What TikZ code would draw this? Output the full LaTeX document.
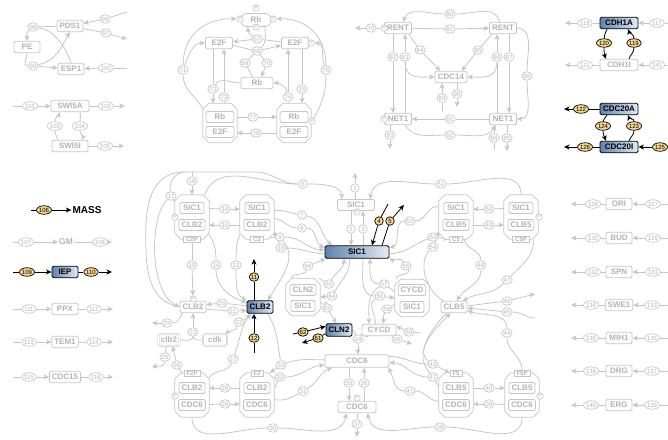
\documentclass[tikz,border=0pt]{standalone}
\usepackage{fontspec}
\setmainfont{Liberation Sans}
\usepackage{tikz}
\usetikzlibrary{arrows.meta,shapes.geometric,shapes.misc}
\definecolor{ash}{HTML}{C6C6C6}
\definecolor{ashtext}{HTML}{B4B4B4}
\definecolor{steel}{HTML}{5E82AD}
\definecolor{frost}{HTML}{E4ECF4}
\definecolor{honey}{HTML}{F6D58E}
\pgfdeclarelayer{back}
\pgfdeclarelayer{mid}
\pgfsetlayers{back,mid,main}

\begin{document}
\begin{tikzpicture}[x=1pt,y=-1pt,
  ln/.style={draw=ash,line width=0.8pt},
  ar/.style={ln,-{Stealth[length=5.5pt,width=5pt,inset=1.5pt]}},
  bln/.style={draw=black,line width=0.8pt},
  bar/.style={bln,-{Stealth[length=5.5pt,width=5pt,inset=1.5pt]}},
  sp/.style={draw=ash,line width=0.8pt,fill=white,text=ashtext,rounded corners=1.5pt,
    font=\fontsize{8}{8}\selectfont\bfseries,inner xsep=2.5pt,inner ysep=0pt,
    minimum width=26pt,minimum height=11.5pt},
  cs/.style={sp,minimum width=24pt,minimum height=11pt},
  hl/.style={sp,draw=black,text=black,left color=steel,right color=frost},
  rx/.style={ellipse,draw=ash,line width=0.7pt,fill=white,text=ashtext,
    font=\fontsize{6}{6}\selectfont,inner xsep=0.3pt,inner ysep=0pt,minimum size=8.5pt},
  rh/.style={rx,draw=black,fill=honey,text=black},
  ph/.style={circle,draw=ash,line width=0.6pt,fill=white,text=ashtext,
    font=\fontsize{5}{5}\selectfont,inner sep=0pt,minimum size=6.5pt},
  cx/.style={rectangle,inner sep=0pt,minimum width=34pt,minimum height=44pt},
  oct/.style={draw=ash,line width=0.8pt,fill=white,rounded corners=0.8pt},
  tab/.style={draw=ash,line width=0.6pt,fill=white,text=ashtext,
    font=\fontsize{6}{6}\selectfont\bfseries,inner xsep=2.5pt,inner ysep=0.8pt}]
\useasboundingbox (0,0) rectangle (668,439);

% PDS1 / ESP1
\node[sp] (pds1) at (70,26) {PDS1};
\node[sp] (pe) at (27,47) {PE};
\node[sp] (esp1) at (71,69) {ESP1};
\node[rx] (r96) at (105,19) {96};
\node[rx] (r97) at (106,33) {97};
\node[rx] (r98) at (33,27) {98};
\node[rx] (r99) at (33,66) {99};
\node[rx] (r100) at (106,68) {100};
\coordinate (i96) at (127,12); \coordinate (o97) at (127,39); \coordinate (i100) at (127,68);
\begin{pgfonlayer}{back}
\draw[ln] (i96) -- (r96); \draw[ar] (r96) -- (pds1);
\draw[ln] (pds1) -- (r97); \draw[ar] (r97) -- (o97);
\draw[ln] (pds1) -- (r98); \draw[ar] (r98) to[out=-140,in=90] (pe);
\draw[ln] (pe) to[out=-90,in=180] (r99); \draw[ar] (r99) -- (esp1);
\draw[ar] (r99) .. controls (58,60) and (62,45) .. (pds1.-90);
\draw[ln] (r98) .. controls (55,30) and (66,48) .. (esp1.90);
\draw[ln] (i100) -- (r100); \draw[ar] (r100) -- (esp1);
\end{pgfonlayer}

% SWI5
\node[sp,minimum width=38pt] (swi5a) at (70,106) {SWI5A};
\node[sp,minimum width=36pt] (swi5i) at (70,146) {SWI5I};
\node[rx] (r101) at (30,106) {101};
\node[rx] (r102) at (106,106) {102};
\node[rx] (r103) at (55,126) {103};
\node[rx] (r104) at (80,126) {104};
\node[rx] (r105) at (105,146) {105};
\coordinate (i101) at (13,106); \coordinate (o102) at (125,106); \coordinate (o105) at (124,146);
\begin{pgfonlayer}{back}
\draw[ln] (i101) -- (r101); \draw[ar] (r101) -- (swi5a);
\draw[ln] (swi5a) -- (r102); \draw[ar] (r102) -- (o102);
\draw[ln] ([xshift=-12pt]swi5i.north) to[out=110,in=-90] (r103); \draw[ar] (r103) to[out=90,in=-110] ([xshift=-10pt]swi5a.south);
\draw[ln] ([xshift=10pt]swi5a.south) to[out=-70,in=90] (r104); \draw[ar] (r104) to[out=-90,in=70] ([xshift=12pt]swi5i.north);
\draw[ln] (swi5i) -- (r105); \draw[ar] (r105) -- (o105);
\end{pgfonlayer}

% left column
\node[rh] (r106) at (44,210) {106};
\node[font=\fontsize{10}{10}\selectfont\bfseries,inner sep=1pt] (mass) at (87,210) {MASS};
\node[rx] (r107) at (26,242) {107};
\node[text=ashtext,font=\fontsize{8.5}{8.5}\selectfont\bfseries,inner sep=1pt] (gm) at (66,242) {GM};
\node[rx] (r108) at (100,242) {108};
\node[rh] (r109) at (27,272) {109};
\node[hl] (iep) at (65,272) {IEP};
\node[rh] (r110) at (91,272) {110};
\node[rx] (r111) at (29,309) {111};
\node[sp] (ppx) at (65,309) {PPX};
\node[rx] (r112) at (94,309) {112};
\node[rx] (r113) at (29,342) {113};
\node[sp] (tem1) at (65,342) {TEM1};
\node[rx] (r114) at (94,342) {114};
\node[rx] (r115) at (29,377) {115};
\node[sp,minimum width=30pt] (cdc15) at (65,377) {CDC15};
\node[rx] (r116) at (96,377) {116};
\coordinate (i106) at (31,210); \coordinate (i107) at (13,242); \coordinate (o108) at (112,242);
\coordinate (i109) at (13,272); \coordinate (o110) at (112,272);
\coordinate (i111) at (13,309); \coordinate (o112) at (113,309);
\coordinate (i113) at (13,342); \coordinate (o114) at (113,342);
\coordinate (i115) at (13,377); \coordinate (o116) at (113,377);
\begin{pgfonlayer}{back}
\draw[bln] (i106) -- (r106); \draw[bar] (r106) -- (mass);
\draw[ln] (i107) -- (r107); \draw[ar] (r107) -- (gm); \draw[ln] (gm) -- (r108); \draw[ar] (r108) -- (o108);
\draw[bln] (i109) -- (r109); \draw[bar] (r109) -- (iep); \draw[bln] (iep) -- (r110); \draw[bar] (r110) -- (o110);
\draw[ln] (i111) -- (r111); \draw[ar] (r111) -- (ppx); \draw[ln] (ppx) -- (r112); \draw[ar] (r112) -- (o112);
\draw[ln] (i113) -- (r113); \draw[ar] (r113) -- (tem1); \draw[ln] (tem1) -- (r114); \draw[ar] (r114) -- (o114);
\draw[ln] (i115) -- (r115); \draw[ar] (r115) -- (cdc15); \draw[ln] (cdc15) -- (r116); \draw[ar] (r116) -- (o116);
\end{pgfonlayer}

% Rb / E2F
\node[sp,sharp corners,rounded rectangle,minimum width=36pt,minimum height=13pt] (rbp) at (256,20) {Rb};
\node[ph] (rbpl) at (240,19) {P};
\node[ph] (rbpr) at (273,19) {P};
\node[ph] (rbpt) at (256,8) {P};
\node[ph] (rbpb) at (256,27) {P};
\node[sp,minimum width=27pt] (e2fl) at (219,43) {E2F};
\node[sp,minimum width=27pt] (e2fr) at (295,43) {E2F};
\node[ph] (e2frp) at (311,43) {P};
\node[sp,minimum width=32pt] (rbm) at (257,83) {Rb};
\node[cx,minimum height=39pt] (lcx) at (220,123) {};
\node[sp,minimum width=28pt,minimum height=11pt] (lrb) at (220,117) {Rb};
\node[sp,minimum width=28pt,minimum height=11pt] (le2f) at (220,132) {E2F};
\node[cx,minimum height=39pt] (rcx) at (294,123) {};
\node[sp,minimum width=28pt,minimum height=11pt] (rrb) at (294,117) {Rb};
\node[sp,minimum width=28pt,minimum height=11pt] (re2f) at (294,132) {E2F};
\node[ph] (rcxp) at (312,121) {P};
\node[rx] (r67) at (257,39) {67};
\node[rx] (r68) at (257,51) {68};
\node[rx] (r69) at (245,63) {69};
\node[rx] (r70) at (267,63) {70};
\node[rx] (r71) at (183,70) {71};
\node[rx] (r72) at (213,89) {72};
\node[rx] (r73) at (224,97) {73};
\node[rx] (r74) at (288,97) {74};
\node[rx] (r75) at (302,89) {75};
\node[rx] (r76) at (326,70) {76};
\node[rx] (r77) at (253,117) {77};
\node[rx] (r78) at (256,133) {78};
\begin{pgfonlayer}{back}
\draw[ln] (lcx.140) to[out=120,in=-90] (r71); \draw[ar] (r71) .. controls (183,35) and (205,18) .. (rbpl); \draw[ar] (r71) to[out=70,in=180] (e2fl);
\draw[ln] (rcxp) to[out=60,in=-90] (r76); \draw[ar] (r76) .. controls (326,35) and (305,18) .. (rbpr); \draw[ar] (r76) to[out=110,in=0] (e2frp);
\draw[ln] (e2fr.175) -- (r67); \draw[ar] (r67) -- (e2fl.5);
\draw[ln] (e2fl.-10) -- (r68); \draw[ar] (r68) -- (e2fr.-170);
\draw[ar] (r67) to[out=150,in=-90] ([xshift=-8pt]rbp.south);
\draw[ln] (r68) to[out=40,in=-90] ([xshift=9pt]rbp.south);
\draw[ln] (rbm.125) -- (r69); \draw[ln] (r69) -- (r68);
\draw[ln] (r68) -- (r70); \draw[ar] (r70) -- (rbm.55);
\draw[ln] (r72 |- e2fl.south) -- (r72); \draw[ar] (r72) -- (r72 |- lcx.north);
\draw[ln] (r73 |- lcx.north) -- (r73); \draw[ar] (r73) -- (r73 |- e2fl.south);
\draw[ln] (rbm.west) to[out=180,in=60] (r72);
\draw[ln] (r75 |- e2fr.south) -- (r75); \draw[ar] (r75) -- (r75 |- rcx.north);
\draw[ln] (r74 |- rcx.north) -- (r74); \draw[ar] (r74) -- (r74 |- e2fr.south);
\draw[ar] (r74) to[out=100,in=0] (rbm.east);
\draw[ln] (r77 -| lcx.east) -- (r77); \draw[ar] (r77) -- (r77 -| rcx.west);
\draw[ln] (r78 -| rcx.west) -- (r78); \draw[ar] (r78) -- (r78 -| lcx.east);
\end{pgfonlayer}

% RENT / NET1 / CDC14
\node[sp,minimum width=27pt] (rentl) at (398,28) {RENT};
\node[ph] (rentlp) at (384,28) {P};
\node[sp,minimum width=27pt] (rentr) at (503,28) {RENT};
\node[sp,minimum width=32pt] (cdc14) at (451,77) {CDC14};
\node[sp,minimum width=27pt] (netl) at (398,119) {NET1};
\node[ph] (netlp) at (384,119) {P};
\node[sp,minimum width=27pt] (netr) at (503,119) {NET1};
\node[rx] (r79) at (371,28) {79};
\node[rx] (r80) at (450,14) {80};
\node[rx] (r81) at (450,29) {81};
\node[rx] (r82) at (393,57) {82};
\node[rx] (r83) at (405,57) {83};
\node[rx] (r84) at (420,50) {84};
\node[rx] (r85) at (478,50) {85};
\node[rx] (r86) at (497,57) {86};
\node[rx] (r87) at (509,57) {87};
\node[rx] (r88) at (527,76) {88};
\node[rx] (r89) at (442,98) {89};
\node[rx] (r90) at (457,94) {90};
\node[rx] (r91) at (450,119) {91};
\node[rx] (r92) at (450,135) {92};
\node[rx] (r93) at (390,135) {93};
\node[rx] (r94) at (494,138) {94};
\node[rx] (r95) at (507,138) {95};
\coordinate (o79) at (355,28); \coordinate (i89) at (442,111); \coordinate (o90) at (457,107);
\coordinate (o93) at (390,149); \coordinate (i94) at (494,150); \coordinate (o95) at (507,151);
\begin{pgfonlayer}{back}
\draw[ln] (rentlp) -- (r79); \draw[ar] (r79) -- (o79);
\draw[ln] (rentr.120) to[out=100,in=0] (r80); \draw[ar] (r80) to[out=180,in=70] (rentl.50);
\draw[ln] (rentl) -- (r81); \draw[ar] (r81) -- (rentr);
\draw[ln] (r82 |- rentl.south) -- (r82); \draw[ar] (r82) -- (r82 |- netl.north);
\draw[ln] (r83 |- netl.north) -- (r83); \draw[ar] (r83) -- (r83 |- rentl.south);
\draw[ln] (rentl.-30) -- (r84); \draw[ar] (r84) -- (cdc14.150);
\draw[ln] (rentr.-150) -- (r85); \draw[ar] (r85) -- (cdc14.30);
\draw[ar] (r83) .. controls (405,80) and (420,77) .. (cdc14.west);
\draw[ar] (r86) .. controls (497,80) and (482,77) .. (cdc14.east);
\draw[ln] (r86 |- netr.north) -- (r86); \draw[ar] (r86) -- (r86 |- rentr.south);
\draw[ln] (r87 |- rentr.south) -- (r87); \draw[ar] (r87) -- (r87 |- netr.north);
\draw[ln] (rentr.east) to[out=0,in=90] (r88); \draw[ar] (r88) to[out=-90,in=0] (netr.east);
\draw[ln] (i89) -- (r89); \draw[ar] (r89) -- (r89 |- cdc14.south);
\draw[ln] (r90 |- cdc14.south) -- (r90); \draw[ar] (r90) -- (o90);
\draw[ln] (netr) -- (r91); \draw[ar] (r91) -- (netl);
\draw[ln] (netl.-40) to[out=-60,in=180] (r92); \draw[ar] (r92) to[out=0,in=-120] (netr.-140);
\draw[ln] (r93 |- netl.south) -- (r93); \draw[ar] (r93) -- (o93);
\draw[ln] (i94) -- (r94); \draw[ar] (r94) -- (r94 |- netr.south);
\draw[ln] (r95 |- netr.south) -- (r95); \draw[ar] (r95) -- (o95);
\end{pgfonlayer}

% CDH1 / CDC20
\node[hl,minimum width=38pt] (cdh1a) at (619,23) {CDH1A};
\node[sp,minimum width=38pt] (cdh1i) at (619,65) {CDH1I};
\node[hl,minimum width=38pt] (cdc20a) at (619,109) {CDC20A};
\node[hl,minimum width=38pt] (cdc20i) at (619,147) {CDC20I};
\node[rx] (r117) at (657,23) {117};
\node[rx] (r118) at (585,23) {118};
\node[rh] (r119) at (634,43) {119};
\node[rh] (r120) at (604,43) {120};
\node[rx] (r121) at (585,65) {121};
\node[rx] (r141) at (657,65) {141};
\node[rh] (r122) at (581,109) {122};
\node[rh] (r123) at (634,126) {123};
\node[rh] (r124) at (603,126) {124};
\node[rh] (r125) at (660,147) {125};
\node[rh] (r126) at (585,147) {126};
\coordinate (i117) at (668,23); \coordinate (o118) at (565,23);
\coordinate (i141) at (668,65); \coordinate (o121) at (565,65);
\coordinate (o122) at (564,109); \coordinate (o126) at (564,147);
\begin{pgfonlayer}{back}
\draw[ln] (i117) -- (r117); \draw[ar] (r117) -- (cdh1a); \draw[ln] (cdh1a) -- (r118); \draw[ar] (r118) -- (o118);
\draw[bln] ([xshift=-12pt]cdh1a.south) to[out=-110,in=90] (r120); \draw[bar] (r120) to[out=-90,in=110] ([xshift=-13pt]cdh1i.north);
\draw[bln] ([xshift=10pt]cdh1i.north) to[out=70,in=-90] (r119); \draw[bar] (r119) to[out=90,in=-70] ([xshift=9pt]cdh1a.south);
\draw[ln] (i141) -- (r141); \draw[ar] (r141) -- (cdh1i); \draw[ln] (cdh1i) -- (r121); \draw[ar] (r121) -- (o121);
\draw[bln] (cdc20a) -- (r122); \draw[bar] (r122) -- (o122);
\draw[bln] ([xshift=-12pt]cdc20a.south) to[out=-110,in=90] (r124); \draw[bar] (r124) to[out=-90,in=110] ([xshift=-13pt]cdc20i.north);
\draw[bln] ([xshift=10pt]cdc20i.north) to[out=70,in=-90] (r123); \draw[bar] (r123) to[out=90,in=-70] ([xshift=9pt]cdc20a.south);
\draw[bar] (r125) -- (cdc20i); \draw[bln] (cdc20i) -- (r126); \draw[bar] (r126) -- (o126);
\end{pgfonlayer}

% right column
\node[sp] (ori) at (619,204) {ORI};
\node[sp] (bud) at (619,238) {BUD};
\node[sp] (spn) at (619,272) {SPN};
\node[sp] (swe1) at (619,305) {SWE1};
\node[sp] (mih1) at (619,338) {MIH1};
\node[sp] (drg) at (619,371) {DRG};
\node[sp] (erg) at (619,405) {ERG};
\node[rx] (r127) at (653,204) {127}; \node[rx] (r128) at (593,204) {128};
\node[rx] (r129) at (653,238) {129}; \node[rx] (r130) at (593,238) {130};
\node[rx] (r131) at (653,272) {131}; \node[rx] (r132) at (593,272) {132};
\node[rx] (r133) at (652,305) {133}; \node[rx] (r134) at (591,305) {134};
\node[rx] (r135) at (652,338) {135}; \node[rx] (r136) at (591,338) {136};
\node[rx] (r137) at (652,371) {137}; \node[rx] (r138) at (591,371) {138};
\node[rx] (r139) at (652,405) {139}; \node[rx] (r140) at (591,405) {140};
\coordinate (i127) at (668,204); \coordinate (o128) at (571,204);
\coordinate (i129) at (668,238); \coordinate (o130) at (571,238);
\coordinate (i131) at (668,272); \coordinate (o132) at (571,272);
\coordinate (i133) at (668,305); \coordinate (o134) at (571,305);
\coordinate (i135) at (668,338); \coordinate (o136) at (571,338);
\coordinate (i137) at (668,371); \coordinate (o138) at (571,371);
\coordinate (i139) at (668,405); \coordinate (o140) at (571,405);
\begin{pgfonlayer}{back}
\draw[ln] (i127) -- (r127); \draw[ar] (r127) -- (ori); \draw[ln] (ori) -- (r128); \draw[ar] (r128) -- (o128);
\draw[ln] (i129) -- (r129); \draw[ar] (r129) -- (bud); \draw[ln] (bud) -- (r130); \draw[ar] (r130) -- (o130);
\draw[ln] (i131) -- (r131); \draw[ar] (r131) -- (spn); \draw[ln] (spn) -- (r132); \draw[ar] (r132) -- (o132);
\draw[ln] (i133) -- (r133); \draw[ar] (r133) -- (swe1); \draw[ln] (swe1) -- (r134); \draw[ar] (r134) -- (o134);
\draw[ln] (i135) -- (r135); \draw[ar] (r135) -- (mih1); \draw[ln] (mih1) -- (r136); \draw[ar] (r136) -- (o136);
\draw[ln] (i137) -- (r137); \draw[ar] (r137) -- (drg); \draw[ln] (drg) -- (r138); \draw[ar] (r138) -- (o138);
\draw[ln] (i139) -- (r139); \draw[ar] (r139) -- (erg); \draw[ln] (erg) -- (r140); \draw[ar] (r140) -- (o140);
\end{pgfonlayer}

% main network: species and complexes
\node[sp,minimum width=37pt,minimum height=11pt] (sic1g) at (356,205) {SIC1};
\node[ph] (sic1gp) at (357,212) {P};
\node[hl,minimum width=64pt,minimum height=12.5pt] (sic1) at (357,252) {SIC1};
\node[cx] (c2p) at (192,217) {};
\node[cs] (c2ps) at (192,208) {SIC1};
\node[cs] (c2pb) at (192,225) {CLB2};
\node[tab] (c2pt) at (192,239) {C2P};
\node[ph] (c2pp) at (175,217) {P};
\node[cx] (c2) at (257,217) {};
\node[cs] (c2s) at (257,208) {SIC1};
\node[cs] (c2b) at (257,225) {CLB2};
\node[tab] (c2t) at (257,239) {C2};
\node[cx] (c5) at (456,217) {};
\node[cs] (c5s) at (456,208) {SIC1};
\node[cs] (c5b) at (456,225) {CLB5};
\node[tab] (c5t) at (456,239) {C5};
\node[cx] (c5p) at (521,217) {};
\node[cs] (c5ps) at (521,208) {SIC1};
\node[cs] (c5pb) at (521,225) {CLB5};
\node[tab] (c5pt) at (521,239) {C5P};
\node[ph] (c5pp) at (539,217) {P};
\node[cx,minimum height=37pt] (cln2c) at (303,297) {};
\node[cs] (cln2cn) at (303,290) {CLN2};
\node[cs] (cln2cs) at (303,306) {SIC1};
\node[cx,minimum height=37pt] (cycdc) at (412,298) {};
\node[cs] (cycdcd) at (412,290) {CYCD};
\node[cs] (cycdcs) at (412,307) {SIC1};
\node[hl,minimum height=12.5pt] (clb2) at (260,307) {CLB2};
\node[sp] (clb2p) at (193,307) {CLB2};
\node[ph] (clb2pp) at (193,299) {P};
\node[sp,double=white,double distance=0.8pt,line width=0.5pt,minimum width=21pt] (clb2lc) at (169,340) {clb2};
\node[sp,double=white,double distance=0.8pt,line width=0.5pt,minimum width=24pt] (cdk) at (215,340) {cdk};
\node[hl,minimum height=12.5pt] (cln2) at (339,330) {CLN2};
\node[sp,minimum width=34pt] (cycd) at (379,330) {CYCD};
\node[sp,minimum width=64pt,minimum height=12.5pt] (cdc6) at (357,361) {CDC6};
\node[sp,minimum width=38pt] (cdc6p) at (357,407) {CDC6};
\node[ph] (cdc6pp) at (357,398) {P};
\node[sp] (clb5) at (454,307) {CLB5};
\node[cx] (f2p) at (192,395) {};
\node[cs] (f2pb) at (192,388) {CLB2};
\node[cs] (f2pc) at (192,405) {CDC6};
\node[tab] (f2pt) at (192,373) {F2P};
\node[ph] (f2pp) at (175,396) {P};
\node[cx] (f2) at (257,395) {};
\node[cs] (f2b) at (257,388) {CLB2};
\node[cs] (f2c) at (257,405) {CDC6};
\node[tab] (f2t) at (257,373) {F2};
\node[cx] (f5) at (456,395) {};
\node[cs] (f5b) at (456,388) {CLB5};
\node[cs] (f5c) at (456,405) {CDC6};
\node[tab] (f5t) at (456,373) {F5};
\node[cx] (f5p) at (522,395) {};
\node[cs] (f5pb) at (522,388) {CLB5};
\node[cs] (f5pc) at (522,405) {CDC6};
\node[tab] (f5pt) at (522,373) {F5P};
\node[ph] (f5pp) at (540,396) {P};
\begin{pgfonlayer}{mid}
\foreach \c in {lcx,rcx,c2p,c2,c5,c5p,cln2c,cycdc,f2p,f2,f5,f5p}
  \draw[oct] ([xshift=6pt]\c.north west) -- ([xshift=-6pt]\c.north east) -- ([yshift=-6pt]\c.north east)
    -- ([yshift=6pt]\c.south east) -- ([xshift=-6pt]\c.south east) -- ([xshift=6pt]\c.south west)
    -- ([yshift=6pt]\c.south west) -- ([yshift=-6pt]\c.north west) -- cycle;
\end{pgfonlayer}

% main network: reactions
\node[rx] (r1) at (355,188) {1};
\node[rx] (r2) at (351,229) {2};
\node[rx] (r3) at (363,229) {3};
\node[rh] (r4) at (379,221) {4};
\node[rh] (r5) at (390,221) {5};
\node[rx] (r6) at (303,184) {6};
\node[rx] (r7) at (302,215) {7};
\node[rx] (r8) at (302,228) {8};
\node[rx] (r9) at (280,237) {9};
\node[rx] (r10) at (281,248) {10};
\node[rh] (r11) at (254,277) {11};
\node[rh] (r12) at (254,338) {12};
\node[rx] (r13) at (236,265) {13};
\node[rx] (r14) at (216,265) {14};
\node[rx] (r15) at (225,225) {15};
\node[rx] (r16) at (225,209) {16};
\node[rx] (r17) at (171,196) {17};
\node[rx] (r18) at (192,181) {18};
\node[rx] (r19) at (192,265) {19};
\node[rx] (r20) at (222,303) {20};
\node[rx] (r21) at (233,311) {21};
\node[rx] (r22) at (239,322) {22};
\node[rx] (r23) at (193,332) {23};
\node[rx] (r24) at (167,323) {24};
\node[rx] (r25) at (165,357) {25};
\node[rx] (r26) at (177,365) {26};
\node[rx] (r27) at (233,359) {27};
\node[rx] (r28) at (225,388) {28};
\node[rx] (r29) at (225,404) {29};
\node[rx] (r30) at (273,428) {30};
\node[rx] (r31) at (303,391) {31};
\node[rx] (r32) at (280,377) {32};
\node[rx] (r33) at (281,365) {33};
\node[rx] (r34) at (358,339) {34};
\node[rx] (r35) at (349,383) {35};
\node[rx] (r36) at (364,383) {36};
\node[rx] (r37) at (357,424) {37};
\node[rx] (r38) at (440,427) {38};
\node[rx] (r39) at (489,404) {39};
\node[rx] (r40) at (489,388) {40};
\node[rx] (r41) at (410,391) {41};
\node[rx] (r42) at (433,377) {42};
\node[rx] (r43) at (433,364) {43};
\node[rx] (r44) at (507,333) {44};
\node[rx] (r45) at (507,312) {45};
\node[rx] (r46) at (507,301) {46};
\node[rx] (r47) at (507,280) {47};
\node[rx] (r48) at (481,265) {48};
\node[rx] (r49) at (489,225) {49};
\node[rx] (r50) at (489,209) {50};
\node[rx] (r51) at (441,184) {51};
\node[rx] (r52) at (410,221) {52};
\node[rx] (r53) at (433,237) {53};
\node[rx] (r54) at (433,247) {54};
\node[rx] (r55) at (406,266) {55};
\node[rx] (r56) at (380,296) {56};
\node[rx] (r57) at (384,284) {57};
\node[rx] (r58) at (387,309) {58};
\node[rx] (r59) at (409,332) {59};
\node[rx] (r60) at (397,339) {60};
\node[rh] (r61) at (318,338) {61};
\node[rh] (r62) at (303,332) {62};
\node[rx] (r63) at (327,308) {63};
\node[rx] (r64) at (332,296) {64};
\node[rx] (r65) at (329,284) {65};
\node[rx] (r66) at (308,266) {66};
\coordinate (o1) at (355,173); \coordinate (i4) at (388,204); \coordinate (o5) at (404,205);
\coordinate (o11) at (254,259); \coordinate (i12) at (254,353);
\coordinate (topl) at (185,172); \coordinate (topm) at (255,172);
\coordinate (o24) at (152,323); \coordinate (o25) at (152,367); \coordinate (i26) at (186,380);
\coordinate (o37) at (357,437); \coordinate (i45) at (535,318); \coordinate (o46) at (535,294);
\coordinate (i59) at (421,333); \coordinate (o60) at (412,344);
\coordinate (i62) at (293,334); \coordinate (o61) at (302,343);
\begin{pgfonlayer}{back}
% SIC1 and its complexes
\draw[ln] (sic1g) -- (r1); \draw[ar] (r1) -- (o1);
\draw[ln] (r2 |- sic1g.south) -- (r2); \draw[ar] (r2) -- (r2 |- sic1.north);
\draw[ln] (r3 |- sic1.north) -- (r3); \draw[ar] (r3) -- (r3 |- sic1g.south);
\draw[bln] (i4) -- (r4); \draw[bar] (r4) -- ([xshift=15pt]sic1.north);
\draw[bln] ([xshift=25pt]sic1.north) -- (r5); \draw[bar] (r5) -- (o5);
\draw[ln] (c2p.60) to[out=70,in=180] (r6); \draw[ar] (r6) to[out=0,in=95] ([xshift=5pt]sic1g.north west);
\draw[ln] (c2p.140) -- (r17); \draw[ln] (r17) to[out=100,in=180] (topl) -- (topm) to[out=0,in=180] (r6);
\draw[ar] (r17) .. controls (150,215) and (148,292) .. (clb2p.west);
\draw[ln] (topl) .. controls (150,172) and (144,205) .. (146,250) .. controls (147,290) and (160,303) .. (clb2p.west);
\draw[ln] (r18 |- topl) -- (r18); \draw[ar] (r18) -- (c2p.north);
\draw[ln] (c2ps) -- (r16); \draw[ar] (r16) -- (r16 -| c2.west);
\draw[ln] (c2b) -- (r15); \draw[ar] (r15) -- (r15 -| c2p.east);
\draw[ln] (c2.20) to[out=10,in=170] (r7); \draw[ar] (r7) to[out=-10,in=140] (sic1.165);
\draw[ln] (c2.-5) to[out=-5,in=180] (r8); \draw[ar] (r8) to[out=0,in=160] (sic1.172);
\draw[ln] (c2t) -- (r9); \draw[ar] (r9) to[out=0,in=180] (sic1.176); \draw[ar] (r9) to[out=-50,in=60] (clb2.40);
\draw[ln] (sic1.-177) to[out=180,in=0] (r10); \draw[ar] (r10) -- (c2.-40);
\draw[ln] (c2.-135) to[out=-110,in=90] (r13); \draw[ar] (r13) to[out=-90,in=150] (clb2.155);
\draw[ln] (c2p.-45) to[out=-60,in=90] (r14); \draw[ar] (r14) to[out=-90,in=160] (clb2.163);
\draw[ln] (c2pt) -- (r19); \draw[ar] (r19) -- (clb2pp);
\draw[bln] (r11 |- clb2.north) -- (r11); \draw[bar] (r11) -- (o11);
\draw[bln] (i12) -- (r12); \draw[bar] (r12) -- (r12 |- clb2.south);
\draw[ln] (clb2.175) -- (r20); \draw[ar] (r20) -- (clb2p.10);
\draw[ln] (clb2p.-10) -- (r21); \draw[ar] (r21) -- (clb2.-165);
\draw[ln] (clb2.-120) -- (r22); \draw[ar] (r22) to[out=-110,in=40] (cdk.30);
\draw[ln] (clb2lc.east) to[out=0,in=-90] (r23); \draw[ln] (cdk.west) to[out=180,in=-90] (r23); \draw[ar] (r23) -- (clb2p.south);
\draw[ln] (clb2p.-150) to[out=-120,in=0] (r24); \draw[ar] (r24) -- (o24);
\draw[ln] (clb2lc.-110) to[out=-100,in=90] (r25); \draw[ar] (r25) to[out=-90,in=10] (o25);
\draw[ln] (i26) to[out=90,in=-60] (r26); \draw[ar] (r26) -- (clb2lc.-60);
\draw[ln] (f2p.45) to[out=60,in=-110] (r27); \draw[ar] (r27) to[out=70,in=-125] (clb2.-145);
\draw[ln] (f2b) -- (r28); \draw[ar] (r28) -- (r28 -| f2p.east);
\draw[ln] (f2pc) -- (r29); \draw[ar] (r29) -- (r29 -| f2.west);
\draw[ln] (f2p.-90) to[out=-90,in=180] (r30); \draw[ar] (r30) to[out=0,in=-100] (cdc6p.-150);
\draw[ln] (f2.-15) to[out=-10,in=-150] (r31); \draw[ar] (r31) to[out=30,in=-160] (cdc6.-165);
\draw[ln] (clb2.-40) .. controls (276,330) .. (r33); \draw[ln] (cdc6.178) to[out=180,in=20] (r33); \draw[ar] (r33) -- (f2.60);
\draw[ln] (f2.20) -- (r32); \draw[ar] (r32) to[out=0,in=-175] (cdc6.-173);
% CDC6
\draw[ln] (cln2.east) to[out=0,in=120] (r34); \draw[ln] (cycd.-150) to[out=-120,in=60] (r34); \draw[ar] (r34) -- (r34 |- cdc6.north);
\draw[ln] (r35 |- cdc6.south) -- (r35); \draw[ar] (r35) -- (r35 |- cdc6p.north);
\draw[ln] (r36 |- cdc6p.north) -- (r36); \draw[ar] (r36) -- (r36 |- cdc6.south);
\draw[ln] (cdc6p) -- (r37); \draw[ar] (r37) -- (o37);
\draw[ln] (f5p.-90) to[out=-90,in=0] (r38); \draw[ar] (r38) to[out=180,in=-80] (cdc6p.-30);
\draw[ln] (f5pc) -- (r39); \draw[ar] (r39) -- (r39 -| f5.east);
\draw[ln] (f5b) -- (r40); \draw[ar] (r40) -- (r40 -| f5p.west);
\draw[ln] (f5.-160) to[out=180,in=0] (r41); \draw[ar] (r41) to[out=180,in=-60] (cdc6.-12);
\draw[ln] (cdc6.8) to[out=0,in=180] (r43); \draw[ar] (r43) -- (f5t.west);
\draw[ln] (clb5.-140) .. controls (425,335) and (418,355) .. (r43);
\draw[ln] (f5.155) -- (r42); \draw[ar] (r42) to[out=180,in=0] (cdc6.-3);
\draw[ar] (r42) .. controls (412,352) and (432,332) .. (clb5.-120);
% CLB5
\draw[ln] (f5pt.north) to[out=90,in=-90] (r44); \draw[ar] (r44) to[out=90,in=-20] (clb5.-15);
\draw[ln] (i45) to[out=180,in=0] (r45); \draw[ar] (r45) -- (clb5.-4);
\draw[ln] (clb5.5) -- (r46); \draw[ar] (r46) -- (o46);
\draw[ln] (c5p.-60) to[out=-90,in=45] (r47); \draw[ar] (r47) to[out=-135,in=30] (clb5.35);
\draw[ln] (c5.-70) to[out=-80,in=90] (r48); \draw[ar] (r48) to[out=-90,in=60] (clb5.65);
\draw[ln] (c5b) -- (r49); \draw[ar] (r49) -- (r49 -| c5p.west);
\draw[ln] (c5ps) -- (r50); \draw[ar] (r50) -- (r50 -| c5.east);
\draw[ln] (c5p.90) to[out=90,in=0] (r51); \draw[ar] (r51) to[out=180,in=80] ([xshift=-5pt]sic1g.north east);
\draw[ln] (c5.150) to[out=160,in=0] (r52); \draw[ar] (r52) to[out=180,in=10] (sic1.8);
\draw[ln] (sic1.-3) to[out=0,in=-160] (r53); \draw[ar] (r53) -- (c5t.west);
\draw[ln] (clb5.150) .. controls (425,290) and (418,262) .. (r54); \draw[ar] (r54) -- (c5.-140);
% CYCD, CLN2
\draw[ln] (cycdc.130) to[out=120,in=-60] (r55); \draw[ar] (r55) to[out=120,in=-30] (sic1.-11);
\draw[ln] ([xshift=6pt]sic1.south) to[out=-90,in=180] (r56); \draw[ln] (cycd.120) to[out=90,in=-150] (r56); \draw[ar] (r56) -- (cycdc.west);
\draw[ln] (cycdc.160) -- (r57); \draw[ar] (r57) to[out=180,in=-90] ([xshift=13pt]sic1.south); \draw[ar] (r57) to[out=-150,in=90] ([xshift=-10pt]cycd.north);
\draw[ln] (cycdc.-160) -- (r58); \draw[ar] (r58) to[out=-120,in=80] ([xshift=4pt]cycd.north);
\draw[ln] (i59) -- (r59); \draw[ar] (r59) -- (cycd.12);
\draw[ln] (cycd.-25) -- (r60); \draw[ar] (r60) -- (o60);
\draw[bln] (i62) -- (r62); \draw[bar] (r62) -- (cln2.165);
\draw[bln] (cln2.-165) -- (r61); \draw[bar] (r61) -- (o61);
\draw[ln] (cln2c.-20) to[out=-20,in=90] (r63); \draw[ar] (r63) -- (cln2.110);
\draw[ln] ([xshift=-7pt]sic1.south) to[out=-90,in=60] (r64); \draw[ar] (r64) -- (cln2c.east);
\draw[ln] (cln2c.50) -- (r65); \draw[ar] (r65) to[out=60,in=-90] ([xshift=-13pt]sic1.south);
\draw[ln] (cln2c.120) to[out=110,in=-110] (r66); \draw[ar] (r66) -- (sic1.-168);
\end{pgfonlayer}
\end{tikzpicture}
\end{document}
